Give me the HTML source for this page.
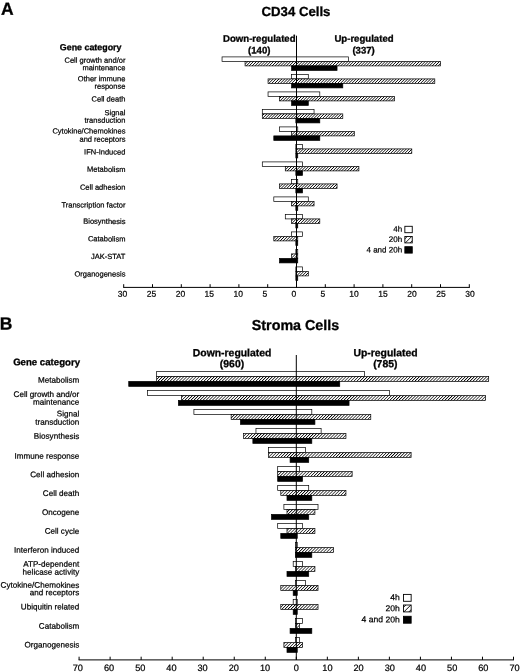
<!DOCTYPE html>
<html lang="en"><head><meta charset="utf-8"><title>Gene category expression in CD34 and Stroma cells</title>
<style>html,body{margin:0;padding:0;background:#fff}svg{display:block;will-change:transform;filter:grayscale(1)}text{font-family:"Liberation Sans", Arial, Helvetica, sans-serif;fill:#000;stroke:#000;stroke-width:0.22px;text-rendering:geometricPrecision}text[font-weight]{stroke-width:0.3px}</style>
</head><body>
<svg width="520" height="672" viewBox="0 0 520 672">
<defs>
<pattern id="hA" width="2.86" height="10" patternUnits="userSpaceOnUse" patternTransform="skewX(-45)"><rect width="2.86" height="10" fill="#fff"/><rect width="0.95" height="10" fill="#000"/></pattern>
<pattern id="hB" width="3.06" height="10" patternUnits="userSpaceOnUse" patternTransform="skewX(-45)"><rect width="3.06" height="10" fill="#fff"/><rect width="1.0" height="10" fill="#000"/></pattern>
</defs>
<rect width="520" height="672" fill="#fff"/>
<text x="0.9" y="14.8" font-size="17.5" text-anchor="start" font-weight="bold" transform="rotate(0.05 0.9 14.8)">A</text>
<text x="-0.2" y="329.5" font-size="17.5" text-anchor="start" font-weight="bold" transform="rotate(0.05 -0.2 329.5)">B</text>
<text x="296" y="16" font-size="13.2" text-anchor="middle" font-weight="bold" transform="rotate(0.05 296 16)">CD34 Cells</text>
<text x="295.5" y="330" font-size="14.3" text-anchor="middle" font-weight="bold" transform="rotate(0.05 295.5 330)">Stroma Cells</text>
<text x="259.3" y="41.8" font-size="9.6" text-anchor="middle" font-weight="bold" transform="rotate(0.05 259.3 41.8)">Down-regulated</text>
<text x="259.3" y="53.6" font-size="9.6" text-anchor="middle" font-weight="bold" transform="rotate(0.05 259.3 53.6)">(140)</text>
<text x="364" y="41.8" font-size="9.6" text-anchor="middle" font-weight="bold" transform="rotate(0.05 364 41.8)">Up-regulated</text>
<text x="363.6" y="53.6" font-size="9.6" text-anchor="middle" font-weight="bold" transform="rotate(0.05 363.6 53.6)">(337)</text>
<text x="121.5" y="50.3" font-size="8.9" text-anchor="end" font-weight="bold" transform="rotate(0.05 121.5 50.3)">Gene category</text>
<text x="232.1" y="356.2" font-size="10.4" text-anchor="middle" font-weight="bold" transform="rotate(0.05 232.1 356.2)">Down-regulated</text>
<text x="232" y="367.2" font-size="10.4" text-anchor="middle" font-weight="bold" transform="rotate(0.05 232 367.2)">(960)</text>
<text x="385.5" y="356.2" font-size="10.4" text-anchor="middle" font-weight="bold" transform="rotate(0.05 385.5 356.2)">Up-regulated</text>
<text x="385.3" y="367.2" font-size="10.4" text-anchor="middle" font-weight="bold" transform="rotate(0.05 385.3 367.2)">(785)</text>
<text x="80" y="365.4" font-size="9.65" text-anchor="end" font-weight="bold" transform="rotate(0.05 80 365.4)">Gene category</text>
<rect x="222.05" y="56.9" width="126.5" height="4.5" fill="#fff" stroke="#000" stroke-width="0.7"/>
<rect x="245.05" y="61.4" width="195.5" height="4.5" fill="url(#hA)" stroke="#000" stroke-width="0.7"/>
<rect x="291.62" y="65.9" width="45.43" height="4.5" fill="#000" stroke="#000" stroke-width="0.7"/>
<rect x="291.62" y="74.4" width="16.68" height="4.5" fill="#fff" stroke="#000" stroke-width="0.7"/>
<rect x="268.05" y="78.9" width="166.75" height="4.5" fill="url(#hA)" stroke="#000" stroke-width="0.7"/>
<rect x="291.62" y="83.4" width="51.18" height="4.5" fill="#000" stroke="#000" stroke-width="0.7"/>
<rect x="268.05" y="91.9" width="51.75" height="4.5" fill="#fff" stroke="#000" stroke-width="0.7"/>
<rect x="279.55" y="96.4" width="115" height="4.5" fill="url(#hA)" stroke="#000" stroke-width="0.7"/>
<rect x="291.62" y="100.9" width="16.68" height="4.5" fill="#000" stroke="#000" stroke-width="0.7"/>
<rect x="262.3" y="109.4" width="51.75" height="4.5" fill="#fff" stroke="#000" stroke-width="0.7"/>
<rect x="262.3" y="113.9" width="80.5" height="4.5" fill="url(#hA)" stroke="#000" stroke-width="0.7"/>
<rect x="295.85" y="118.4" width="23.95" height="4.5" fill="#000" stroke="#000" stroke-width="0.7"/>
<rect x="279.55" y="126.9" width="18.2" height="4.5" fill="#fff" stroke="#000" stroke-width="0.7"/>
<rect x="291.62" y="131.4" width="62.68" height="4.5" fill="url(#hA)" stroke="#000" stroke-width="0.7"/>
<rect x="273.8" y="135.9" width="46" height="4.5" fill="#000" stroke="#000" stroke-width="0.7"/>
<rect x="295.85" y="144.4" width="6.7" height="4.5" fill="#fff" stroke="#000" stroke-width="0.7"/>
<rect x="295.85" y="148.9" width="115.95" height="4.5" fill="url(#hA)" stroke="#000" stroke-width="0.7"/>
<rect x="295.85" y="153.4" width="1.9" height="4.5" fill="#000" stroke="#000" stroke-width="0.7"/>
<rect x="262.3" y="161.9" width="40.25" height="4.5" fill="#fff" stroke="#000" stroke-width="0.7"/>
<rect x="285.3" y="166.4" width="73.6" height="4.5" fill="url(#hA)" stroke="#000" stroke-width="0.7"/>
<rect x="295.85" y="170.9" width="6.7" height="4.5" fill="#000" stroke="#000" stroke-width="0.7"/>
<rect x="291.62" y="179.4" width="6.12" height="4.5" fill="#fff" stroke="#000" stroke-width="0.7"/>
<rect x="279.55" y="183.9" width="57.5" height="4.5" fill="url(#hA)" stroke="#000" stroke-width="0.7"/>
<rect x="295.85" y="188.4" width="6.7" height="4.5" fill="#000" stroke="#000" stroke-width="0.7"/>
<rect x="273.8" y="196.9" width="34.5" height="4.5" fill="#fff" stroke="#000" stroke-width="0.7"/>
<rect x="291.62" y="201.4" width="22.43" height="4.5" fill="url(#hA)" stroke="#000" stroke-width="0.7"/>
<rect x="295.85" y="205.9" width="1.9" height="4.5" fill="#000" stroke="#000" stroke-width="0.7"/>
<rect x="285.3" y="214.4" width="17.25" height="4.5" fill="#fff" stroke="#000" stroke-width="0.7"/>
<rect x="291.62" y="218.9" width="28.18" height="4.5" fill="url(#hA)" stroke="#000" stroke-width="0.7"/>
<rect x="295.85" y="223.4" width="1.9" height="4.5" fill="#000" stroke="#000" stroke-width="0.7"/>
<rect x="291.62" y="231.9" width="10.93" height="4.5" fill="#fff" stroke="#000" stroke-width="0.7"/>
<rect x="273.8" y="236.4" width="23.95" height="4.5" fill="url(#hA)" stroke="#000" stroke-width="0.7"/>
<rect x="295.85" y="240.9" width="1.9" height="4.5" fill="#000" stroke="#000" stroke-width="0.7"/>
<rect x="295.85" y="249.4" width="1.9" height="4.5" fill="#fff" stroke="#000" stroke-width="0.7"/>
<rect x="291.62" y="253.9" width="6.12" height="4.5" fill="url(#hA)" stroke="#000" stroke-width="0.7"/>
<rect x="279.55" y="258.4" width="18.2" height="4.5" fill="#000" stroke="#000" stroke-width="0.7"/>
<rect x="295.85" y="266.9" width="6.7" height="4.5" fill="#fff" stroke="#000" stroke-width="0.7"/>
<rect x="295.85" y="271.4" width="12.45" height="4.5" fill="url(#hA)" stroke="#000" stroke-width="0.7"/>
<rect x="295.85" y="275.9" width="1.9" height="4.5" fill="#000" stroke="#000" stroke-width="0.7"/>
<line x1="296.5" y1="35.7" x2="296.5" y2="287.4" stroke="#000" stroke-width="1"/>
<line x1="123.2" y1="287.4" x2="469.8" y2="287.4" stroke="#000" stroke-width="1"/>
<line x1="123.7" y1="284.2" x2="123.7" y2="287.4" stroke="#000" stroke-width="1"/>
<text x="117.77" y="296.7" font-size="8.5" text-anchor="start" transform="rotate(0.05 117.77 296.7)">30</text>
<line x1="152.5" y1="284.2" x2="152.5" y2="287.4" stroke="#000" stroke-width="1"/>
<text x="146.72" y="296.7" font-size="8.5" text-anchor="start" transform="rotate(0.05 146.72 296.7)">25</text>
<line x1="181.3" y1="284.2" x2="181.3" y2="287.4" stroke="#000" stroke-width="1"/>
<text x="175.67" y="296.7" font-size="8.5" text-anchor="start" transform="rotate(0.05 175.67 296.7)">20</text>
<line x1="210.1" y1="284.2" x2="210.1" y2="287.4" stroke="#000" stroke-width="1"/>
<text x="204.62" y="296.7" font-size="8.5" text-anchor="start" transform="rotate(0.05 204.62 296.7)">15</text>
<line x1="238.9" y1="284.2" x2="238.9" y2="287.4" stroke="#000" stroke-width="1"/>
<text x="233.57" y="296.7" font-size="8.5" text-anchor="start" transform="rotate(0.05 233.57 296.7)">10</text>
<line x1="267.7" y1="284.2" x2="267.7" y2="287.4" stroke="#000" stroke-width="1"/>
<text x="262.52" y="296.7" font-size="8.5" text-anchor="start" transform="rotate(0.05 262.52 296.7)">5</text>
<line x1="296.5" y1="284.2" x2="296.5" y2="287.4" stroke="#000" stroke-width="1"/>
<text x="291.47" y="296.7" font-size="8.5" text-anchor="start" transform="rotate(0.05 291.47 296.7)">0</text>
<line x1="325.3" y1="284.2" x2="325.3" y2="287.4" stroke="#000" stroke-width="1"/>
<text x="320.42" y="296.7" font-size="8.5" text-anchor="start" transform="rotate(0.05 320.42 296.7)">5</text>
<line x1="354.1" y1="284.2" x2="354.1" y2="287.4" stroke="#000" stroke-width="1"/>
<text x="349.37" y="296.7" font-size="8.5" text-anchor="start" transform="rotate(0.05 349.37 296.7)">10</text>
<line x1="382.9" y1="284.2" x2="382.9" y2="287.4" stroke="#000" stroke-width="1"/>
<text x="378.32" y="296.7" font-size="8.5" text-anchor="start" transform="rotate(0.05 378.32 296.7)">15</text>
<line x1="411.7" y1="284.2" x2="411.7" y2="287.4" stroke="#000" stroke-width="1"/>
<text x="407.27" y="296.7" font-size="8.5" text-anchor="start" transform="rotate(0.05 407.27 296.7)">20</text>
<line x1="440.5" y1="284.2" x2="440.5" y2="287.4" stroke="#000" stroke-width="1"/>
<text x="436.22" y="296.7" font-size="8.5" text-anchor="start" transform="rotate(0.05 436.22 296.7)">25</text>
<line x1="469.3" y1="284.2" x2="469.3" y2="287.4" stroke="#000" stroke-width="1"/>
<text x="465.17" y="296.7" font-size="8.5" text-anchor="start" transform="rotate(0.05 465.17 296.7)">30</text>
<text x="125.4" y="62.85" font-size="7.5" text-anchor="end" transform="rotate(0.05 125.4 62.85)">Cell growth and/or</text>
<text x="125.4" y="70.35" font-size="7.5" text-anchor="end" transform="rotate(0.05 125.4 70.35)">maintenance</text>
<text x="125.4" y="81.35" font-size="7.5" text-anchor="end" transform="rotate(0.05 125.4 81.35)">Other immune</text>
<text x="125.4" y="88.75" font-size="7.5" text-anchor="end" transform="rotate(0.05 125.4 88.75)">response</text>
<text x="125.4" y="101.6" font-size="7.5" text-anchor="end" transform="rotate(0.05 125.4 101.6)">Cell death</text>
<text x="125.4" y="115.35" font-size="7.5" text-anchor="end" transform="rotate(0.05 125.4 115.35)">Signal</text>
<text x="125.4" y="122.85" font-size="7.5" text-anchor="end" transform="rotate(0.05 125.4 122.85)">transduction</text>
<text x="125.4" y="133.6" font-size="7.5" text-anchor="end" transform="rotate(0.05 125.4 133.6)">Cytokine/Chemokines</text>
<text x="125.4" y="141.75" font-size="7.5" text-anchor="end" transform="rotate(0.05 125.4 141.75)">and receptors</text>
<text x="125.4" y="154.5" font-size="7.5" text-anchor="end" transform="rotate(0.05 125.4 154.5)">IFN-Induced</text>
<text x="125.4" y="171.9" font-size="7.5" text-anchor="end" transform="rotate(0.05 125.4 171.9)">Metabolism</text>
<text x="125.4" y="189.85" font-size="7.5" text-anchor="end" transform="rotate(0.05 125.4 189.85)">Cell adhesion</text>
<text x="125.4" y="207.6" font-size="7.5" text-anchor="end" transform="rotate(0.05 125.4 207.6)">Transcription factor</text>
<text x="125.4" y="223.9" font-size="7.5" text-anchor="end" transform="rotate(0.05 125.4 223.9)">Biosynthesis</text>
<text x="125.4" y="241.4" font-size="7.5" text-anchor="end" transform="rotate(0.05 125.4 241.4)">Catabolism</text>
<text x="125.4" y="259.1" font-size="7.5" text-anchor="end" transform="rotate(0.05 125.4 259.1)">JAK-STAT</text>
<text x="125.4" y="276.6" font-size="7.5" text-anchor="end" transform="rotate(0.05 125.4 276.6)">Organogenesis</text>
<rect x="156.66" y="371.5" width="207.9" height="4.95" fill="#fff" stroke="#000" stroke-width="0.7"/>
<rect x="156.66" y="376.45" width="332.02" height="4.95" fill="url(#hB)" stroke="#000" stroke-width="0.7"/>
<rect x="128.74" y="381.4" width="211" height="4.95" fill="#000" stroke="#000" stroke-width="0.7"/>
<rect x="147.36" y="390.5" width="242.03" height="4.95" fill="#fff" stroke="#000" stroke-width="0.7"/>
<rect x="181.49" y="395.45" width="304.09" height="4.95" fill="url(#hB)" stroke="#000" stroke-width="0.7"/>
<rect x="178.39" y="400.4" width="170.67" height="4.95" fill="#000" stroke="#000" stroke-width="0.7"/>
<rect x="193.9" y="409.5" width="117.91" height="4.95" fill="#fff" stroke="#000" stroke-width="0.7"/>
<rect x="231.14" y="414.45" width="139.64" height="4.95" fill="url(#hB)" stroke="#000" stroke-width="0.7"/>
<rect x="240.45" y="419.4" width="74.47" height="4.95" fill="#000" stroke="#000" stroke-width="0.7"/>
<rect x="255.96" y="428.5" width="65.16" height="4.95" fill="#fff" stroke="#000" stroke-width="0.7"/>
<rect x="243.55" y="433.45" width="102.4" height="4.95" fill="url(#hB)" stroke="#000" stroke-width="0.7"/>
<rect x="252.86" y="438.4" width="58.96" height="4.95" fill="#000" stroke="#000" stroke-width="0.7"/>
<rect x="268.37" y="447.5" width="37.24" height="4.95" fill="#fff" stroke="#000" stroke-width="0.7"/>
<rect x="268.37" y="452.45" width="142.74" height="4.95" fill="url(#hB)" stroke="#000" stroke-width="0.7"/>
<rect x="290.09" y="457.4" width="18.62" height="4.95" fill="#000" stroke="#000" stroke-width="0.7"/>
<rect x="277.68" y="466.5" width="21.72" height="4.95" fill="#fff" stroke="#000" stroke-width="0.7"/>
<rect x="277.68" y="471.45" width="74.47" height="4.95" fill="url(#hB)" stroke="#000" stroke-width="0.7"/>
<rect x="277.68" y="476.4" width="24.82" height="4.95" fill="#000" stroke="#000" stroke-width="0.7"/>
<rect x="277.68" y="485.5" width="31.03" height="4.95" fill="#fff" stroke="#000" stroke-width="0.7"/>
<rect x="280.79" y="490.45" width="65.16" height="4.95" fill="url(#hB)" stroke="#000" stroke-width="0.7"/>
<rect x="286.99" y="495.4" width="24.82" height="4.95" fill="#000" stroke="#000" stroke-width="0.7"/>
<rect x="283.89" y="504.5" width="34.13" height="4.95" fill="#fff" stroke="#000" stroke-width="0.7"/>
<rect x="286.99" y="509.45" width="27.93" height="4.95" fill="url(#hB)" stroke="#000" stroke-width="0.7"/>
<rect x="271.48" y="514.4" width="37.24" height="4.95" fill="#000" stroke="#000" stroke-width="0.7"/>
<rect x="277.68" y="523.5" width="24.82" height="4.95" fill="#fff" stroke="#000" stroke-width="0.7"/>
<rect x="286.99" y="528.45" width="27.93" height="4.95" fill="url(#hB)" stroke="#000" stroke-width="0.7"/>
<rect x="280.79" y="533.4" width="16.46" height="4.95" fill="#000" stroke="#000" stroke-width="0.7"/>
<rect x="295.35" y="542.5" width="1.9" height="4.95" fill="#fff" stroke="#000" stroke-width="0.7"/>
<rect x="295.35" y="547.45" width="38.19" height="4.95" fill="url(#hB)" stroke="#000" stroke-width="0.7"/>
<rect x="295.35" y="552.4" width="16.46" height="4.95" fill="#000" stroke="#000" stroke-width="0.7"/>
<rect x="293.2" y="561.5" width="9.31" height="4.95" fill="#fff" stroke="#000" stroke-width="0.7"/>
<rect x="295.35" y="566.45" width="19.57" height="4.95" fill="url(#hB)" stroke="#000" stroke-width="0.7"/>
<rect x="286.99" y="571.4" width="21.72" height="4.95" fill="#000" stroke="#000" stroke-width="0.7"/>
<rect x="295.35" y="580.5" width="10.26" height="4.95" fill="#fff" stroke="#000" stroke-width="0.7"/>
<rect x="280.79" y="585.45" width="37.24" height="4.95" fill="url(#hB)" stroke="#000" stroke-width="0.7"/>
<rect x="293.2" y="590.4" width="4.05" height="4.95" fill="#000" stroke="#000" stroke-width="0.7"/>
<rect x="293.2" y="599.5" width="4.05" height="4.95" fill="#fff" stroke="#000" stroke-width="0.7"/>
<rect x="280.79" y="604.45" width="37.24" height="4.95" fill="url(#hB)" stroke="#000" stroke-width="0.7"/>
<rect x="293.2" y="609.4" width="4.05" height="4.95" fill="#000" stroke="#000" stroke-width="0.7"/>
<rect x="295.35" y="618.5" width="7.16" height="4.95" fill="#fff" stroke="#000" stroke-width="0.7"/>
<rect x="295.35" y="623.45" width="4.05" height="4.95" fill="url(#hB)" stroke="#000" stroke-width="0.7"/>
<rect x="290.09" y="628.4" width="21.72" height="4.95" fill="#000" stroke="#000" stroke-width="0.7"/>
<rect x="295.35" y="637.5" width="4.05" height="4.95" fill="#fff" stroke="#000" stroke-width="0.7"/>
<rect x="283.89" y="642.45" width="18.62" height="4.95" fill="url(#hB)" stroke="#000" stroke-width="0.7"/>
<rect x="286.99" y="647.4" width="10.26" height="4.95" fill="#000" stroke="#000" stroke-width="0.7"/>
<line x1="296.3" y1="355" x2="296.3" y2="659.9" stroke="#000" stroke-width="1"/>
<line x1="78.59" y1="659.9" x2="514.01" y2="659.9" stroke="#000" stroke-width="1"/>
<line x1="79.09" y1="656.7" x2="79.09" y2="659.9" stroke="#000" stroke-width="1"/>
<text x="77.87" y="670.9" font-size="9.2" text-anchor="middle" transform="rotate(0.05 77.87 670.9)">70</text>
<line x1="110.12" y1="656.7" x2="110.12" y2="659.9" stroke="#000" stroke-width="1"/>
<text x="109.06" y="670.9" font-size="9.2" text-anchor="middle" transform="rotate(0.05 109.06 670.9)">60</text>
<line x1="141.15" y1="656.7" x2="141.15" y2="659.9" stroke="#000" stroke-width="1"/>
<text x="140.25" y="670.9" font-size="9.2" text-anchor="middle" transform="rotate(0.05 140.25 670.9)">50</text>
<line x1="172.18" y1="656.7" x2="172.18" y2="659.9" stroke="#000" stroke-width="1"/>
<text x="171.44" y="670.9" font-size="9.2" text-anchor="middle" transform="rotate(0.05 171.44 670.9)">40</text>
<line x1="203.21" y1="656.7" x2="203.21" y2="659.9" stroke="#000" stroke-width="1"/>
<text x="202.63" y="670.9" font-size="9.2" text-anchor="middle" transform="rotate(0.05 202.63 670.9)">30</text>
<line x1="234.24" y1="656.7" x2="234.24" y2="659.9" stroke="#000" stroke-width="1"/>
<text x="233.82" y="670.9" font-size="9.2" text-anchor="middle" transform="rotate(0.05 233.82 670.9)">20</text>
<line x1="265.27" y1="656.7" x2="265.27" y2="659.9" stroke="#000" stroke-width="1"/>
<text x="265.01" y="670.9" font-size="9.2" text-anchor="middle" transform="rotate(0.05 265.01 670.9)">10</text>
<line x1="296.3" y1="656.7" x2="296.3" y2="659.9" stroke="#000" stroke-width="1"/>
<text x="296.2" y="670.9" font-size="9.2" text-anchor="middle" transform="rotate(0.05 296.2 670.9)">0</text>
<line x1="327.33" y1="656.7" x2="327.33" y2="659.9" stroke="#000" stroke-width="1"/>
<text x="327.39" y="670.9" font-size="9.2" text-anchor="middle" transform="rotate(0.05 327.39 670.9)">10</text>
<line x1="358.36" y1="656.7" x2="358.36" y2="659.9" stroke="#000" stroke-width="1"/>
<text x="358.58" y="670.9" font-size="9.2" text-anchor="middle" transform="rotate(0.05 358.58 670.9)">20</text>
<line x1="389.39" y1="656.7" x2="389.39" y2="659.9" stroke="#000" stroke-width="1"/>
<text x="389.77" y="670.9" font-size="9.2" text-anchor="middle" transform="rotate(0.05 389.77 670.9)">30</text>
<line x1="420.42" y1="656.7" x2="420.42" y2="659.9" stroke="#000" stroke-width="1"/>
<text x="420.96" y="670.9" font-size="9.2" text-anchor="middle" transform="rotate(0.05 420.96 670.9)">40</text>
<line x1="451.45" y1="656.7" x2="451.45" y2="659.9" stroke="#000" stroke-width="1"/>
<text x="452.15" y="670.9" font-size="9.2" text-anchor="middle" transform="rotate(0.05 452.15 670.9)">50</text>
<line x1="482.48" y1="656.7" x2="482.48" y2="659.9" stroke="#000" stroke-width="1"/>
<text x="483.34" y="670.9" font-size="9.2" text-anchor="middle" transform="rotate(0.05 483.34 670.9)">60</text>
<line x1="513.51" y1="656.7" x2="513.51" y2="659.9" stroke="#000" stroke-width="1"/>
<text x="514.53" y="670.9" font-size="9.2" text-anchor="middle" transform="rotate(0.05 514.53 670.9)">70</text>
<text x="79.3" y="382.7" font-size="8.1" text-anchor="end" transform="rotate(0.05 79.3 382.7)">Metabolism</text>
<text x="79.3" y="396.95" font-size="8.1" text-anchor="end" transform="rotate(0.05 79.3 396.95)">Cell growth and/or</text>
<text x="79.3" y="404.7" font-size="8.1" text-anchor="end" transform="rotate(0.05 79.3 404.7)">maintenance</text>
<text x="79.3" y="416.4" font-size="8.1" text-anchor="end" transform="rotate(0.05 79.3 416.4)">Signal</text>
<text x="79.3" y="424.7" font-size="8.1" text-anchor="end" transform="rotate(0.05 79.3 424.7)">transduction</text>
<text x="79.3" y="438.9" font-size="8.1" text-anchor="end" transform="rotate(0.05 79.3 438.9)">Biosynthesis</text>
<text x="79.3" y="458.7" font-size="8.1" text-anchor="end" transform="rotate(0.05 79.3 458.7)">Immune response</text>
<text x="79.3" y="477.2" font-size="8.1" text-anchor="end" transform="rotate(0.05 79.3 477.2)">Cell adhesion</text>
<text x="79.3" y="496.1" font-size="8.1" text-anchor="end" transform="rotate(0.05 79.3 496.1)">Cell death</text>
<text x="79.3" y="515.1" font-size="8.1" text-anchor="end" transform="rotate(0.05 79.3 515.1)">Oncogene</text>
<text x="79.3" y="533.9" font-size="8.1" text-anchor="end" transform="rotate(0.05 79.3 533.9)">Cell cycle</text>
<text x="79.3" y="552.85" font-size="8.1" text-anchor="end" transform="rotate(0.05 79.3 552.85)">Interferon induced</text>
<text x="79.3" y="566.7" font-size="8.1" text-anchor="end" transform="rotate(0.05 79.3 566.7)">ATP-dependent</text>
<text x="79.3" y="574.7" font-size="8.1" text-anchor="end" transform="rotate(0.05 79.3 574.7)">helicase activity</text>
<text x="79.3" y="587.9" font-size="8.1" text-anchor="end" transform="rotate(0.05 79.3 587.9)">Cytokine/Chemokines</text>
<text x="79.3" y="595.3" font-size="8.1" text-anchor="end" transform="rotate(0.05 79.3 595.3)">and receptors</text>
<text x="79.3" y="609.6" font-size="8.1" text-anchor="end" transform="rotate(0.05 79.3 609.6)">Ubiquitin related</text>
<text x="79.3" y="628.85" font-size="8.1" text-anchor="end" transform="rotate(0.05 79.3 628.85)">Catabolism</text>
<text x="79.3" y="647.6" font-size="8.1" text-anchor="end" transform="rotate(0.05 79.3 647.6)">Organogenesis</text>
<defs><pattern id="lA" width="4.6" height="10" patternUnits="userSpaceOnUse" patternTransform="translate(3.8 0) skewX(-45)"><rect width="4.6" height="10" fill="#fff"/><rect width="0.9" height="10" fill="#000"/></pattern></defs>
<text x="402.1" y="231.7" font-size="8" text-anchor="end" transform="rotate(0.05 402.1 231.7)">4h</text>
<rect x="404.85" y="226.3" width="7.4" height="6.4" fill="#fff" stroke="#000" stroke-width="0.9"/>
<text x="402.1" y="242.1" font-size="8" text-anchor="end" transform="rotate(0.05 402.1 242.1)">20h</text>
<rect x="404.85" y="236.5" width="7.4" height="6.4" fill="url(#lA)" stroke="#000" stroke-width="0.9"/>
<text x="402.1" y="252.5" font-size="8" text-anchor="end" transform="rotate(0.05 402.1 252.5)">4 and 20h</text>
<rect x="404.85" y="246.7" width="7.4" height="6.4" fill="#000" stroke="#000" stroke-width="0.9"/>
<defs><pattern id="lB" width="5" height="10" patternUnits="userSpaceOnUse" patternTransform="translate(0.3 0) skewX(-45)"><rect width="5" height="10" fill="#fff"/><rect width="0.95" height="10" fill="#000"/></pattern></defs>
<text x="399.8" y="600.2" font-size="8.6" text-anchor="end" transform="rotate(0.05 399.8 600.2)">4h</text>
<rect x="403.5" y="594.4" width="7.65" height="6.9" fill="#fff" stroke="#000" stroke-width="0.9"/>
<text x="399.8" y="611.2" font-size="8.6" text-anchor="end" transform="rotate(0.05 399.8 611.2)">20h</text>
<rect x="403.5" y="605" width="7.65" height="6.9" fill="url(#lB)" stroke="#000" stroke-width="0.9"/>
<text x="399.8" y="622.4" font-size="8.6" text-anchor="end" transform="rotate(0.05 399.8 622.4)">4 and 20h</text>
<rect x="403.5" y="616.3" width="7.65" height="6.9" fill="#000" stroke="#000" stroke-width="0.9"/>
</svg>
</body></html>
